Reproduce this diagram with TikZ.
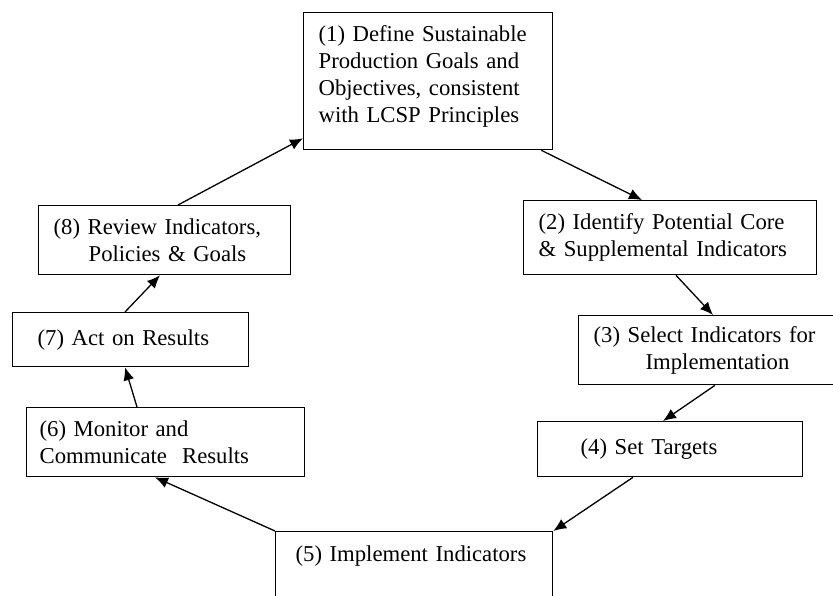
\documentclass[tikz,border=0pt]{standalone}
\usepackage{fontspec}
\setmainfont{Liberation Serif}
\usepackage{tikz}
\usetikzlibrary{arrows.meta,arrows}
\usetikzlibrary{calc}

\newcommand{\deepstrut}[1]{\rule[-#1]{0pt}{#1}}

\begin{document}
\begin{tikzpicture}[x=1pt,y=-1pt]
\tikzstyle{stage node}=[rectangle,draw,line width=1.3pt,anchor=north west,align=left,inner ysep=0pt,font=\fontsize{22.7}{27}\selectfont]
\tikzset{
  >={Latex[length=13pt,width=11pt]},
  flow/.style = {->,line width=1.3pt}
}
\useasboundingbox (0,0) rectangle (833,596);

    \node[stage node,minimum height=137pt,text width=219pt,inner xsep=15pt] (define) at (303,12)
        {(1) Define Sustainable\\Production Goals and\\Objectives, consistent\\with LCSP Principles\deepstrut{15pt}};
    \node[stage node,minimum height=74pt,text width=263pt,inner xsep=15pt] (identify) at (523,200)
        {(2) Identify Potential Core\\\& Supplemental Indicators};
    \node[stage node,minimum height=69pt,text width=230pt,inner xsep=15pt] (select) at (578,315)
        {(3) Select Indicators for\\\hspace*{52pt}Implementation};
    \node[stage node,minimum height=55pt,text width=179pt,inner xsep=43pt] (targets) at (537,421)
        {(4) Set Targets};
    \node[stage node,minimum height=120pt,text width=237pt,inner xsep=20pt] (implement) at (275,531)
        {(5) Implement Indicators\deepstrut{77pt}};
    \node[stage node,minimum height=69pt,text width=252pt,inner xsep=13pt] (monitor) at (26,407)
        {(6) Monitor and\\Communicate~ Results};
    \node[stage node,minimum height=54pt,text width=186pt,inner xsep=25pt] (act) at (12,312)
        {(7) Act on Results};
    \node[stage node,minimum height=69pt,text width=222pt,inner xsep=15pt] (review) at (38,205)
        {(8) Review Indicators,\\\hspace*{35pt}Policies \& Goals};
    %%%%%%%%%%%%%%%%%%%%%%%%%%%%%%%%%%

    \path[flow]
        ([xshift=-12pt]define.south east) edge ([xshift=119pt]identify.north west)
        ([xshift=153pt]identify.south west) edge ([xshift=135pt]select.north west)
        ([xshift=137pt]select.south west) edge ([xshift=126pt]targets.north west)
        ([xshift=96pt]targets.south west) edge (implement.north east)
        (implement.north west) edge ([xshift=129pt]monitor.south west)
        ([xshift=111pt]monitor.north west) edge ([xshift=113pt]act.south west)
        ([xshift=113pt]act.north west) edge ([xshift=122pt]review.south west)
        ([xshift=140pt]review.north west) edge ([yshift=12pt]define.south west)
;
\end{tikzpicture}
\end{document}
